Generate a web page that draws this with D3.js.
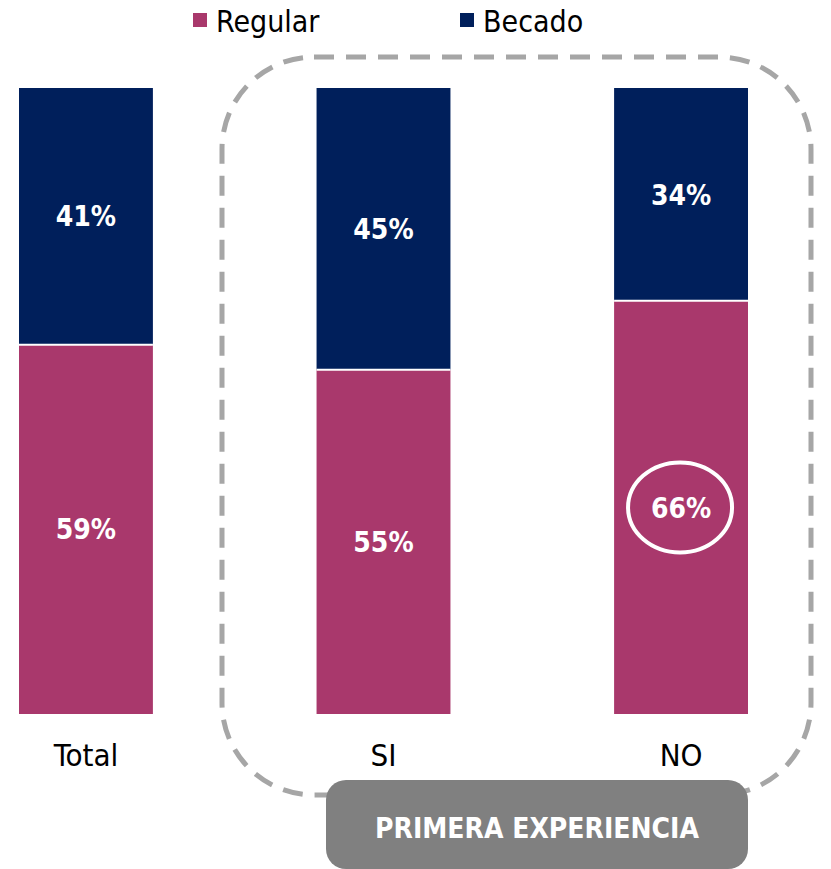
<!DOCTYPE html>
<html><head><meta charset="utf-8">
<script src="https://cdn.jsdelivr.net/npm/d3@7"></script>
<style>body{margin:0;background:#fff}svg{display:block}</style>
</head><body>
<svg id="c" width="831" height="869"></svg>
<script>
const categories = ["Total", "SI", "NO"];
const regular = [59, 55, 66];
const becado = [41, 45, 34];
const seriesNames = ["Regular", "Becado"];
const colors = ["#a9386c", "#001f5b"];
const groupLabel = "PRIMERA EXPERIENCIA";
const highlighted = "NO";

const svg = d3.select("#c");
const font = "'DejaVu Sans Condensed', 'DejaVu Sans', sans-serif";

const x = d3.scaleBand().domain(categories).range([19, 748]).paddingInner(0.55).paddingOuter(0);
const y = d3.scaleLinear().domain([0, 100]).range([714, 88]);

// dashed group box
const x1 = 222, y1 = 57, x2 = 811, y2 = 795;
svg.append("rect").attr("x", x1).attr("y", y1).attr("width", x2 - x1).attr("height", y2 - y1)
  .attr("rx", 92).attr("ry", 92).attr("fill", "none").attr("stroke", "#a6a6a6")
  .attr("stroke-width", 5).attr("stroke-dasharray", "20 12");

const data = categories.map((c, i) => ({ c, r: regular[i], b: becado[i] }));
const g = svg.append("g");
data.forEach(d => {
  const bx = x(d.c), bw = x.bandwidth();
  g.append("rect").attr("x", bx).attr("y", y(d.r)).attr("width", bw).attr("height", y(0) - y(d.r)).attr("fill", colors[0]);
  g.append("rect").attr("x", bx).attr("y", y(d.r + d.b)).attr("width", bw).attr("height", y(0) - y(d.b)).attr("fill", colors[1]);
  g.append("line").attr("x1", bx).attr("x2", bx + bw).attr("y1", y(d.r)).attr("y2", y(d.r)).attr("stroke", "#fff").attr("stroke-width", 2);
  const cx = bx + bw / 2;
  g.append("text").attr("x", cx).attr("y", (y(0) + y(d.r)) / 2).attr("dy", "0.36em")
    .attr("text-anchor", "middle").attr("fill", "#fff").attr("font-family", font).attr("font-weight", "bold")
    .attr("font-size", 28).text(d.r + "%");
  g.append("text").attr("x", cx).attr("y", (y(d.r) + y(d.r + d.b)) / 2).attr("dy", "0.36em")
    .attr("text-anchor", "middle").attr("fill", "#fff").attr("font-family", font).attr("font-weight", "bold")
    .attr("font-size", 28).text(d.b + "%");
  if (d.c === highlighted) {
    g.append("ellipse").attr("cx", cx - 1).attr("cy", (y(0) + y(d.r)) / 2).attr("rx", 52).attr("ry", 45)
      .attr("fill", "none").attr("stroke", "#fff").attr("stroke-width", 4);
  }
});

// category axis
const xAxis = svg.append("g").attr("transform", "translate(0,766)")
  .call(d3.axisBottom(x).tickSize(0).tickPadding(0));
xAxis.select(".domain").remove();
xAxis.selectAll("text").attr("font-family", font).attr("font-size", 31).attr("fill", "#000").attr("dy", "0");

// group label
svg.append("rect").attr("x", 326).attr("y", 780).attr("width", 422).attr("height", 89)
  .attr("rx", 20).attr("fill", "#808080");
svg.append("text").attr("x", 537).attr("y", 828).attr("dy", "0.36em").attr("text-anchor", "middle")
  .attr("fill", "#fff").attr("font-family", font).attr("font-weight", "bold").attr("font-size", 28).text(groupLabel);

// legend
const legX = [193, 460];
seriesNames.forEach((s, i) => {
  svg.append("rect").attr("x", legX[i]).attr("y", 13).attr("width", 14).attr("height", 14).attr("fill", colors[i]);
  svg.append("text").attr("x", legX[i] + 23).attr("y", 32)
    .attr("font-family", font).attr("font-size", 30).attr("fill", "#000").text(s);
});
</script>
</body></html>
